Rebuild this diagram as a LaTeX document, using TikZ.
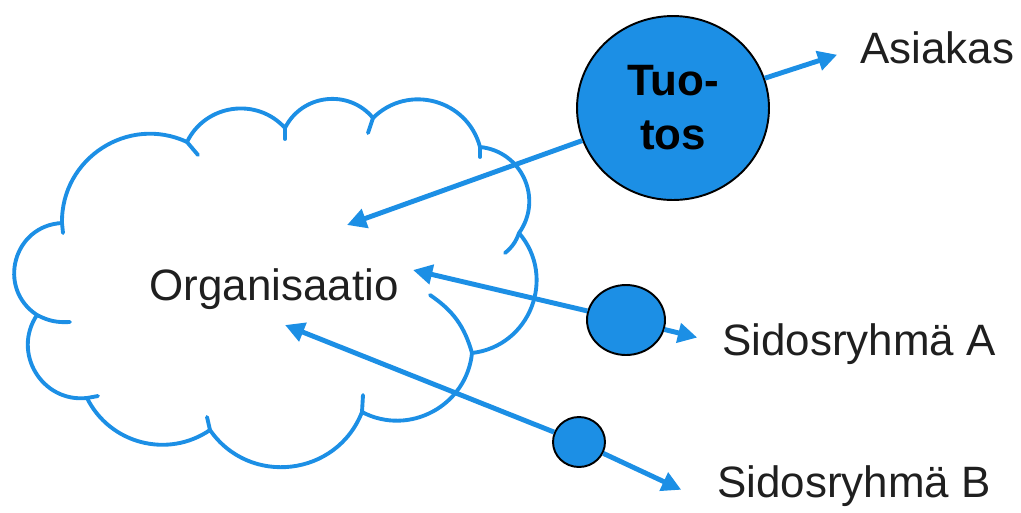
\documentclass[tikz,border=0pt]{standalone}
\usepackage{tikz,tkz-euclide}
\usetikzlibrary{arrows.meta,shapes.geometric,positioning,calc}
\usepackage{fontspec}
\setmainfont{Liberation Sans}
\definecolor{pptblue}{RGB}{28,143,229}

\tikzset{
  cloudline/.style={draw=pptblue, line width=2.2pt, line join=round, line cap=round},
  link/.style={draw=pptblue, line width=2.8pt, -{Triangle[length=11pt,width=11pt]}},
  ball/.style={ellipse, draw=black, line width=1.1pt, fill=pptblue, inner sep=0pt},
  txt/.style={font=\fontsize{25}{30}\selectfont, inner sep=0pt, text=black!88}
}

\begin{document}
\begin{tikzpicture}[x=0.02cm,y=-0.02cm]%[scale=0.9]
  \useasboundingbox (0,0) rectangle (1021,512);
  % cloud
  \tkzDefPoints{62/223/J1, 187/142/J2, 285/128/J3, 373/118/J4, 480/147/J5, 519/233/J6,
    472/353/J7, 362/412/J8, 210/430/J9, 87/398/J10, 37/315/J11}
  \tkzDefPoints{63/233/T1, 198/155/T2, 285/139/T3, 368/133/T4, 480/157/T5, 505/253/T6,
    430/295/T7, 363/395/T8, 207/417/T9, 98/396/T10, 70/322/T11}
  \draw[cloudline] (J1) to[bend left=58,looseness=1.11] (J2)
    to[bend left=56,looseness=1.09] (J3)
    to[bend left=57,looseness=1.1] (J4)
    to[bend left=60,looseness=1.14] (J5)
    to[bend left=60,looseness=1.14] (J6)
    to[bend left=62,looseness=1.16] (J7)
    to[bend left=56,looseness=1.09] (J8)
    to[bend left=62,looseness=1.16] (J9)
    to[bend left=49,looseness=1.03] (J10)
    to[bend left=65,looseness=1.20] (J11)
    to[bend left=72,looseness=1.31] (J1);
  \tkzDrawSegments[cloudline](J1,T1 J2,T2 J3,T3 J4,T4 J5,T5 J8,T8 J9,T9 J10,T10)
  \draw[cloudline] (J6) to[bend left=15] (T6);
  \draw[cloudline] (J7) to[bend right=20] (T7);
  \draw[cloudline] (J11) to[bend right=15] (T11);
  \node[txt, anchor=base] (org) at (274,300) {Organisaatio};
  % balls and groups
  \node[ball, minimum width=3.84cm, minimum height=3.68cm, align=center,
    font=\fontsize{25}{30.7}\selectfont\bfseries] (tuotos) at (673,108) {Tuo-\\tos};
  \node[ball, minimum width=1.56cm, minimum height=1.4cm] (ballA) at (626,320) {};
  \node[ball, minimum width=1.04cm, minimum height=1cm] (ballB) at (579,442) {};
  \node[txt, anchor=base west] (asiakas) at (860,63) {Asiakas};
  \node[txt, anchor=base west] (sidA) at (722,355) {Sidosryhmä A};
  \node[txt, anchor=base west] (sidB) at (717,497) {Sidosryhmä B};
  \coordinate (inT) at (347,225);
  \coordinate (inA) at (413,270);
  \coordinate (inB) at (285,325);
  % arrows
  \draw[link] (tuotos) -- (inT);
  \draw[link, shorten >=0.48cm] (tuotos) -- (asiakas.west);
  \draw[link] (ballA) -- (inA);
  \draw[link, shorten >=0.51cm] (ballA) -- (sidA.west);
  \draw[link] (ballB) -- (inB);
  \draw[link, shorten >=0.79cm] (ballB) -- (sidB.south west);
\end{tikzpicture}
\end{document}
